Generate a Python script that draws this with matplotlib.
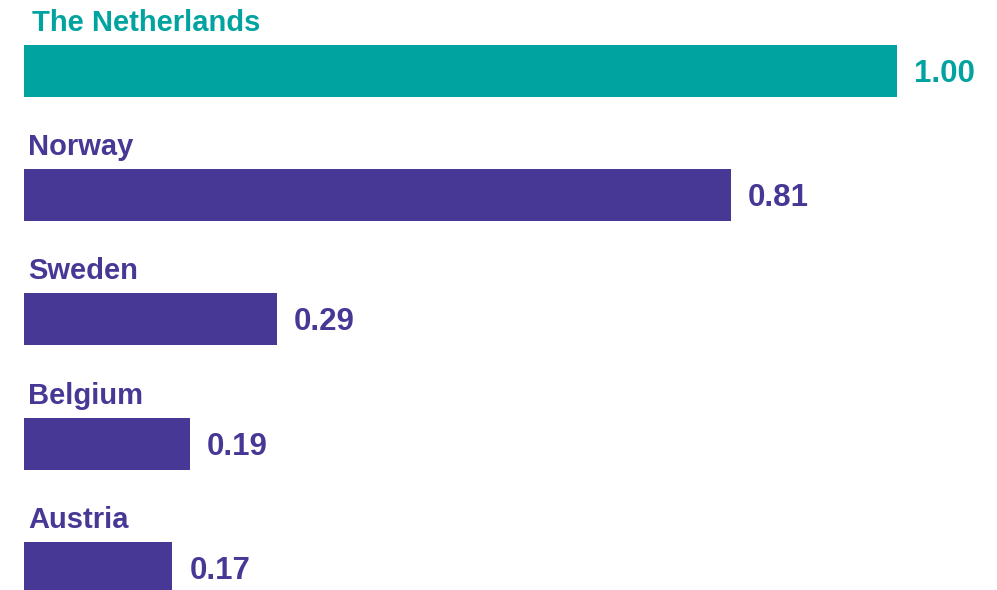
import matplotlib
matplotlib.use("Agg")
import matplotlib.pyplot as plt

countries = ["The Netherlands", "Norway", "Sweden", "Belgium", "Austria"]
values = [1.00, 0.81, 0.29, 0.19, 0.17]
labels = ["1.00", "0.81", "0.29", "0.19", "0.17"]

teal = "#00A39F"
purple = "#483896"
colors = [teal, purple, purple, purple, purple]

plt.rcParams["font.family"] = ["Liberation Sans", "DejaVu Sans"]

W, H = 997, 590
fig = plt.figure(figsize=(W / 100, H / 100), dpi=100)
ax = fig.add_axes([0, 0, 1, 1])

# pixel layout: bars start at x=24, value 1.0 spans 873 px; bar pitch 124.25 px
scale = 873.0
pitch = 124.25
ax.set_xlim(-24 / scale, (W - 24) / scale)
ax.set_ylim((H - 71) / pitch, -71 / pitch)
ax.axis("off")

bar_h = 52 / pitch
ys = list(range(len(countries)))
ax.barh(ys, values, height=bar_h, color=colors, left=0)

for i, (y, name, v, lab, c) in enumerate(zip(ys, countries, values, labels, colors)):
    dx = 8 if i == 0 else 4
    ax.text(dx / scale, y - bar_h / 2 - 14 / pitch, name, ha="left", va="baseline",
            fontsize=21, fontweight="bold", color=c)
    ax.text(v + 17 / scale, y + 3 / pitch, lab, ha="left", va="center",
            fontsize=22.5, fontweight="bold", color=c)

fig.savefig("out.png", dpi=100)
